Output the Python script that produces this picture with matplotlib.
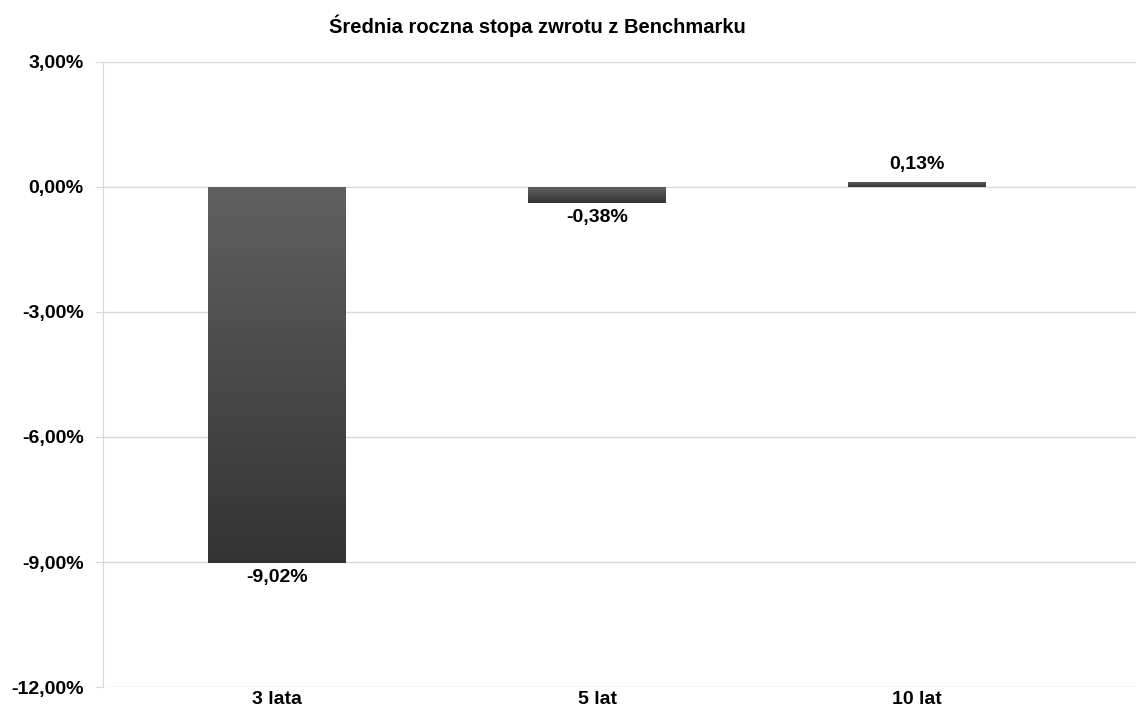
import numpy as np
import matplotlib.pyplot as plt
from matplotlib.colors import LinearSegmentedColormap

categories = ["3 lata", "5 lat", "10 lat"]
values = [-9.02, -0.38, 0.13]
yticks = [3, 0, -3, -6, -9, -12]

plt.rcParams['font.family'] = ['Liberation Sans', 'DejaVu Sans']

fig = plt.figure(figsize=(11.36, 7.14), dpi=100)
ax = fig.add_axes([0.0907, 0.0378, 0.9093, 0.8754])

x = np.arange(len(categories))
bars = ax.bar(x, values, width=0.43, color='none', zorder=3)

# bars filled with a vertical grey gradient, lighter at the top
cmap = LinearSegmentedColormap.from_list("g", ["#333333", "#606060"])
grad = np.linspace(0, 1, 256).reshape(-1, 1)
for b in bars:
    x0, y0 = b.get_x(), b.get_y()
    w, h = b.get_width(), b.get_height()
    lo, hi = min(y0, y0 + h), max(y0, y0 + h)
    im = ax.imshow(grad, cmap=cmap, aspect='auto', origin='lower',
                   extent=[x0, x0 + w, lo, hi], zorder=3)
    im.set_clip_path(b)

for xi, v in zip(x, values):
    label = f"{v:.2f}%".replace(".", ",")
    if v < 0:
        ax.text(xi, v - 0.15, label, ha='center', va='top',
                fontsize=14, fontweight='bold')
    else:
        ax.text(xi, v + 0.2, label, ha='center', va='bottom',
                fontsize=14, fontweight='bold')

ax.set_xlim(-0.544, 2.684)
ax.set_ylim(-12, 3)
ax.set_yticks(yticks)
ax.set_yticklabels([f"{t:.2f}%".replace(".", ",") for t in yticks],
                   fontsize=14, fontweight='bold')
ax.set_xticks(x)
ax.set_xticklabels(categories, fontsize=14, fontweight='bold')

ax.grid(axis='y', color='#d9d9d9', linewidth=1, zorder=0)
for s in ['top', 'right', 'bottom']:
    ax.spines[s].set_visible(False)
ax.spines['left'].set_color('#d9d9d9')
ax.tick_params(axis='y', length=6, color='#d9d9d9', pad=8)
ax.tick_params(axis='x', length=0, pad=3)

fig.text(0.473, 0.964, "Średnia roczna stopa zwrotu z Benchmarku",
         ha='center', va='center', fontsize=14.5, fontweight='bold')

fig.savefig("out.png", dpi=100)
